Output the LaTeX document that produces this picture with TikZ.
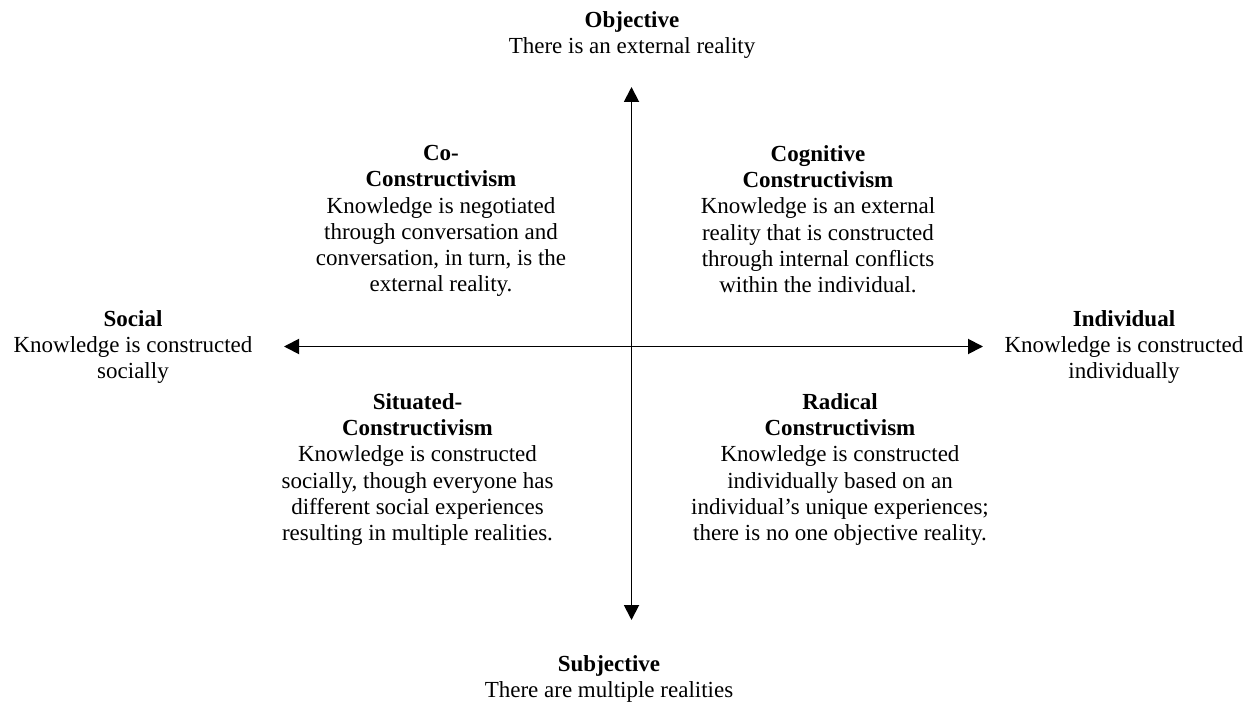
\documentclass[tikz,border=0pt]{standalone}
\usepackage{fontspec}
\setmainfont{Liberation Serif}
\usetikzlibrary{arrows.meta}
\begin{document}
\begin{tikzpicture}[x=1pt,y=1pt,
  txt/.style={align=center,anchor=north,inner sep=0pt,font=\fontsize{23}{26.3}\selectfont},
  axis/.style={line width=1.9pt,{Triangle[length=15pt,width=15pt]}-{Triangle[length=15pt,width=15pt]}}]
\useasboundingbox (0,0) rectangle (1247,-703);
\coordinate (top) at (631.5,-87);
\coordinate (bottom) at (631.5,-620);
\coordinate (left) at (284,-346.5);
\coordinate (right) at (983,-346.5);
\draw[axis] (bottom) -- (top);
\draw[axis] (left) -- (right);
\node[txt] (obj) at (632,-11) {\textbf{Objective}\\There is an external reality};
\node[txt] (subj) at (609,-655) {\textbf{Subjective}\\There are multiple realities};
\node[txt] (soc) at (133,-310) {\textbf{Social}\\Knowledge is constructed\\socially};
\node[txt] (ind) at (1124,-310) {\textbf{Individual}\\Knowledge is constructed\\individually};
\node[txt] (co) at (441,-145) {\textbf{Co-}\\\textbf{Constructivism}\\Knowledge is negotiated\\through conversation and\\conversation, in turn, is the\\external reality.};
\node[txt] (cog) at (818,-145) {\textbf{Cognitive}\\\textbf{Constructivism}\\Knowledge is an external\\reality that is constructed\\through internal conflicts\\within the individual.};
\node[txt] (sit) at (417.5,-393) {\textbf{Situated-}\\\textbf{Constructivism}\\Knowledge is constructed\\socially, though everyone has\\different social experiences\\resulting in multiple realities.};
\node[txt] (rad) at (840,-393) {\textbf{Radical}\\\textbf{Constructivism}\\Knowledge is constructed\\individually based on an\\individual’s unique experiences;\\there is no one objective reality.};
\end{tikzpicture}
\end{document}
